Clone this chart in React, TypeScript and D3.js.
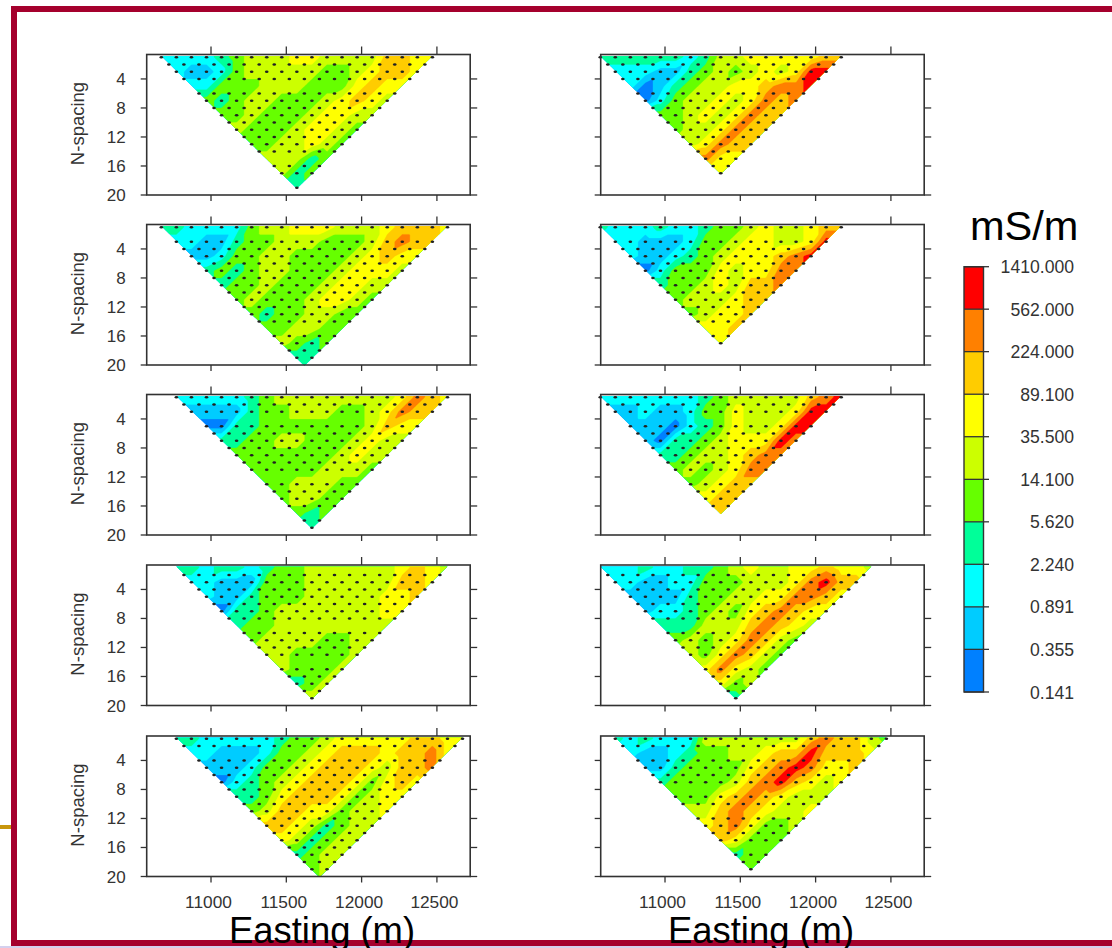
import React, { useMemo } from "react";
import * as d3 from "d3";

// Conductivity levels (mS/m) bounding the ten colour classes of the legend.
const levels = [0.141, 0.355, 0.891, 2.24, 5.62, 14.1, 35.5, 89.1, 224, 562, 1410];
const levelLabels = ["0.141", "0.355", "0.891", "2.240", "5.620", "14.100", "35.500", "89.100", "224.000", "562.000", "1410.000"];
const classColors = ["#0080ff", "#00ccff", "#00ffff", "#00ff99", "#66ff00", "#ccff00", "#ffff00", "#ffcc00", "#ff8000", "#ff0000"];
const eastingTicks = [11000, 11500, 12000, 12500];
const nTicks = [4, 8, 12, 16, 20];

// Colour class read at each station of the odd N-spacings (N = 1, 3, 5, ...), shallowest first.
const L1 = [
  [2, 2, 2, 2, 3, 4, 5, 5, 5, 6, 6, 5, 5, 5, 5, 7, 7, 6, 6],
  [2, 1, 1, 2, 4, 5, 5, 5, 5, 5, 4, 4, 5, 6, 7, 7, 6],
  [2, 2, 4, 4, 4, 5, 5, 5, 4, 4, 4, 6, 7, 6, 6],
  [4, 3, 4, 5, 5, 4, 4, 4, 5, 6, 7, 6, 5],
  [4, 4, 5, 4, 4, 4, 5, 6, 6, 5, 5],
  [5, 4, 4, 4, 5, 6, 6, 5, 4],
  [4, 4, 5, 5, 6, 5, 4],
  [5, 5, 5, 3, 4],
  [5, 3, 4],
  [3],
];
const L2 = [
  [3, 3, 2, 2, 2, 2, 4, 5, 5, 6, 6, 6, 5, 5, 5, 6, 7, 7, 7, 6],
  [2, 2, 1, 1, 3, 4, 4, 5, 5, 5, 4, 4, 4, 5, 7, 8, 7, 7],
  [1, 1, 2, 4, 4, 5, 5, 4, 4, 4, 4, 5, 6, 7, 6, 6],
  [3, 4, 3, 4, 5, 5, 4, 4, 4, 5, 6, 6, 6, 5],
  [3, 4, 4, 5, 4, 4, 4, 5, 6, 6, 5, 5],
  [4, 5, 4, 4, 4, 5, 6, 6, 5, 4],
  [4, 3, 4, 4, 5, 5, 4, 4],
  [4, 4, 5, 5, 4, 4],
  [5, 4, 3, 4],
  [3, 3],
];
const L3 = [
  [2, 2, 2, 2, 2, 3, 4, 5, 5, 5, 5, 5, 5, 5, 5, 6, 8, 7, 6],
  [1, 1, 1, 1, 3, 4, 4, 5, 5, 5, 4, 4, 5, 6, 8, 7, 7],
  [0, 0, 3, 3, 4, 4, 4, 4, 4, 4, 4, 5, 7, 6, 6],
  [3, 3, 4, 4, 5, 5, 4, 4, 4, 5, 6, 5, 5],
  [4, 4, 4, 4, 4, 4, 4, 5, 6, 5, 5],
  [4, 4, 4, 4, 4, 5, 5, 5, 4],
  [4, 4, 5, 5, 5, 4, 4],
  [4, 5, 5, 4, 4],
  [4, 3, 4],
  [3],
];
const L4 = [
  [3, 3, 2, 3, 3, 2, 3, 4, 4, 5, 5, 5, 5, 5, 5, 6, 7, 6, 5],
  [2, 2, 1, 1, 1, 4, 4, 4, 5, 5, 5, 5, 5, 5, 7, 7, 6],
  [2, 1, 1, 3, 4, 4, 4, 5, 5, 5, 5, 5, 6, 6, 7],
  [0, 3, 3, 4, 5, 5, 5, 5, 5, 5, 5, 6, 6],
  [3, 4, 4, 5, 5, 5, 5, 5, 5, 5, 5],
  [4, 5, 5, 5, 5, 4, 4, 5, 5],
  [5, 5, 4, 4, 4, 4, 5],
  [5, 4, 4, 4, 5],
  [3, 4, 5],
  [5],
];
const L5 = [
  [3, 3, 2, 2, 2, 2, 2, 3, 4, 4, 5, 6, 6, 6, 6, 6, 7, 7, 6, 6],
  [2, 2, 1, 1, 1, 2, 4, 4, 5, 6, 7, 7, 7, 6, 7, 7, 8, 6],
  [1, 1, 1, 2, 4, 4, 5, 6, 7, 7, 7, 6, 5, 7, 7, 8],
  [0, 2, 3, 4, 5, 6, 7, 7, 7, 6, 4, 6, 7, 6],
  [3, 3, 4, 6, 7, 7, 7, 6, 4, 5, 6, 6],
  [4, 5, 7, 7, 6, 6, 4, 5, 5, 6],
  [7, 7, 6, 5, 3, 4, 5, 5],
  [6, 5, 3, 4, 5, 5],
  [3, 4, 5, 5],
  [4, 5],
];
const R1 = [
  [3, 3, 3, 3, 3, 3, 2, 3, 5, 5, 6, 6, 6, 6, 6, 7, 7],
  [2, 2, 2, 1, 1, 3, 4, 5, 4, 5, 6, 5, 6, 9, 9],
  [2, 0, 1, 3, 4, 5, 5, 6, 6, 7, 8, 8, 9],
  [0, 2, 4, 5, 5, 6, 5, 6, 8, 7, 8],
  [4, 4, 5, 6, 5, 6, 8, 7, 7],
  [4, 5, 5, 6, 8, 7, 7],
  [5, 6, 8, 7, 7],
  [8, 6, 6],
  [6],
];
const R2 = [
  [3, 2, 2, 2, 3, 2, 2, 3, 4, 4, 5, 6, 5, 5, 6, 7, 7],
  [2, 2, 1, 1, 1, 2, 4, 4, 5, 6, 6, 5, 5, 6, 9],
  [2, 1, 1, 2, 3, 4, 5, 6, 6, 6, 7, 8, 9],
  [0, 2, 4, 4, 4, 6, 5, 6, 6, 8, 8],
  [3, 4, 4, 5, 6, 5, 7, 7, 8],
  [4, 5, 5, 5, 6, 7, 7],
  [4, 5, 6, 6, 7],
  [6, 6, 7],
  [6],
];
const R3 = [
  [2, 2, 2, 2, 2, 2, 2, 3, 4, 5, 5, 5, 5, 5, 7, 8, 9],
  [1, 1, 2, 1, 1, 2, 4, 4, 6, 5, 5, 5, 6, 9, 9],
  [1, 1, 1, 0, 2, 3, 4, 6, 5, 5, 6, 9, 9],
  [1, 0, 3, 3, 4, 5, 6, 6, 6, 9, 8],
  [3, 3, 4, 5, 5, 6, 7, 8, 8],
  [4, 5, 4, 5, 6, 8, 8],
  [4, 5, 6, 7, 7],
  [6, 7, 7],
  [7],
];
const R4 = [
  [2, 2, 2, 3, 2, 2, 3, 3, 4, 5, 6, 5, 5, 6, 6, 7, 6, 6, 5],
  [2, 2, 1, 1, 2, 2, 4, 4, 4, 5, 5, 5, 6, 8, 9, 7, 7],
  [1, 1, 1, 1, 3, 4, 4, 5, 5, 6, 6, 8, 8, 7, 6],
  [1, 2, 2, 3, 4, 5, 4, 6, 7, 8, 7, 6, 6],
  [3, 3, 3, 5, 5, 5, 7, 8, 7, 6, 5],
  [4, 5, 4, 5, 6, 8, 7, 5, 4],
  [5, 4, 6, 8, 7, 5, 4],
  [6, 8, 6, 5, 4],
  [6, 4, 5],
  [3],
];
const R5 = [
  [3, 2, 3, 2, 2, 2, 5, 5, 5, 5, 5, 5, 5, 7, 8, 7, 7, 5, 4],
  [2, 1, 1, 2, 3, 4, 4, 5, 5, 6, 7, 7, 9, 7, 7, 7, 6],
  [1, 1, 3, 4, 4, 4, 4, 6, 7, 8, 9, 8, 6, 6, 7],
  [3, 4, 4, 4, 4, 5, 7, 8, 9, 7, 6, 5, 6],
  [4, 4, 4, 6, 7, 8, 7, 6, 5, 5, 5],
  [5, 5, 7, 8, 7, 6, 5, 5, 6],
  [6, 7, 8, 6, 4, 4, 5],
  [7, 6, 4, 4, 4],
  [3, 4, 4],
  [4],
];

// Panels by column: data, easting of first station, station count, N-spacings without measurement dots.
const leftPanels = [
  { rows: L1, start: 10670, count: 19, missing: [5, 15, 18] },
  { rows: L2, start: 10670, count: 20, missing: [2, 15, 20] },
  { rows: L3, start: 10770, count: 19, missing: [4, 12, 17] },
  { rows: L4, start: 10770, count: 19, missing: [1, 9, 14] },
  { rows: L5, start: 10770, count: 20, missing: [3, 20] },
];
const rightPanels = [
  { rows: R1, start: 10570, count: 17, missing: [5] },
  { rows: R2, start: 10570, count: 17, missing: [2, 15] },
  { rows: R3, start: 10570, count: 17, missing: [4, 12, 17] },
  { rows: R4, start: 10570, count: 19, missing: [1, 9, 14] },
  { rows: R5, start: 10670, count: 19, missing: [3, 8, 11, 16] },
];

const FONT = "'Liberation Sans', Arial, sans-serif";
const INK = "#333";
const panelTops = [54.5, 224.5, 394.5, 565, 736];
const PANEL_H = 140.5;
const PANEL_W = 323.5;
const STEP = 100;

type PanelData = { rows: number[][]; start: number; count: number; missing: number[] };

function sampleField(p: PanelData, e: number, n: number): number {
  // Triangular-mesh interpolation across the odd-N rows of the pseudosection lattice.
  const col = (e - p.start) / STEP;
  const rf = Math.max(0, Math.min(p.rows.length - 1, (n - 1) / 2));
  const r0 = Math.min(p.rows.length - 1, Math.floor(rf));
  const r1 = Math.min(p.rows.length - 1, r0 + 1);
  const t = rf - r0;
  const at = (r: number, c: number) => {
    const row = p.rows[r];
    const i = Math.max(0, Math.min(row.length - 1, c - r));
    return row[i] + 0.5;
  };
  const c0 = Math.floor(col);
  const u = col - c0;
  if (u + t <= 1) {
    const a0 = at(r0, c0);
    return a0 + u * (at(r0, c0 + 1) - a0) + t * (at(r1, c0) - a0);
  }
  const b1 = at(r1, c0 + 1);
  return b1 + (1 - u) * (at(r1, c0) - b1) + (1 - t) * (at(r0, c0 + 1) - b1);
}

function Panel({ data, left, top, showY, showX }: { data: PanelData; left: number; top: number; showY: boolean; showX: boolean }) {
  const x = d3.scaleLinear().domain([10573, 12721]).range([left, left + PANEL_W]);
  const y = d3.scaleLinear().domain([0.63, 20]).range([top, top + PANEL_H]);
  const end = data.start + (data.count - 1) * STEP;
  const apexE = (data.start + end) / 2;
  const apexN = data.count;
  const id = `clip-${Math.round(left)}-${Math.round(top)}`;

  const bands = useMemo(() => {
    const w = Math.ceil(PANEL_W);
    const h = Math.ceil(PANEL_H);
    const values = new Float64Array(w * h);
    for (let j = 0; j < h; j++) {
      const n = y.invert(top + j + 0.5);
      for (let i = 0; i < w; i++) {
        values[j * w + i] = sampleField(data, x.invert(left + i + 0.5), n);
      }
    }
    const gen = d3.contours().size([w, h]).thresholds(d3.range(0, classColors.length));
    const path = d3.geoPath();
    return gen(Array.from(values)).map((c) => ({ value: c.value, d: path(c) || "" }));
  }, [data, left, top]);

  const dots: { cx: number; cy: number }[] = [];
  for (let n = 1; n <= data.count; n++) {
    if (data.missing.includes(n)) continue;
    const stations = data.count - (n - 1);
    for (let k = 0; k < stations; k++) {
      dots.push({ cx: x(data.start + (n - 1) * 50 + k * STEP), cy: y(n) });
    }
  }

  const tri = [
    [x(data.start), y(0.85)],
    [x(end), y(0.85)],
    [x(apexE), y(apexN + 0.1)],
  ]
    .map((p) => p.join(","))
    .join(" ");

  return (
    <g>
      <clipPath id={id}>
        <polygon points={tri} />
      </clipPath>
      <g filter="url(#soft)">
        <g clipPath={`url(#${id})`}>
          <g transform={`translate(${left},${top})`}>
            {bands.map((b) => (
              <path key={b.value} d={b.d} fill={classColors[b.value]} stroke={classColors[b.value]} strokeWidth={0.3} />
            ))}
          </g>
        </g>
      </g>
      <g>
        {dots.map((d, i) => (
          <ellipse key={i} cx={d.cx} cy={d.cy} rx={1.8} ry={1.2} fill="#222" />
        ))}
      </g>
      <g filter="url(#soft)">
        <rect x={left} y={top} width={PANEL_W} height={PANEL_H} fill="none" stroke={INK} strokeWidth={1.6} />
        {eastingTicks.map((t) => (
          <g key={t}>
            <line x1={x(t)} x2={x(t)} y1={top} y2={top - 8} stroke={INK} strokeWidth={1.3} />
            <line x1={x(t)} x2={x(t)} y1={top + PANEL_H} y2={top + PANEL_H + 6} stroke={INK} strokeWidth={1.3} />
          </g>
        ))}
        {nTicks.map((t) => (
          <g key={t}>
            <line x1={left} x2={left - 6} y1={y(t)} y2={y(t)} stroke={INK} strokeWidth={1.3} />
            <line x1={left + PANEL_W} x2={left + PANEL_W + 7} y1={y(t)} y2={y(t)} stroke={INK} strokeWidth={1.3} />
          </g>
        ))}
      </g>
      {showY && (
        <g fontFamily={FONT} fill={INK}>
          {nTicks.map((t) => (
            <text key={t} x={left - 21} y={y(t) + 6} fontSize={17} textAnchor="end">
              {t}
            </text>
          ))}
          <text transform={`translate(${left - 63},${top + 69}) rotate(-90)`} fontSize={18.5} textAnchor="middle">
            N-spacing
          </text>
        </g>
      )}
      {showX && (
        <g fontFamily={FONT} fill={INK}>
          {eastingTicks.map((t) => (
            <text key={t} x={x(t) - 2.5} y={top + PANEL_H + 31.5} fontSize={17.3} textAnchor="middle">
              {t}
            </text>
          ))}
        </g>
      )}
    </g>
  );
}

function Legend() {
  const yScale = d3.scaleLog().domain([levels[0], levels[levels.length - 1]]).range([692, 266.7]);
  const xL = 964;
  const xR = 983.5;
  return (
    <g>
      {classColors.map((c, i) => (
        <rect key={c} x={xL} y={yScale(levels[i + 1])} width={xR - xL} height={yScale(levels[i]) - yScale(levels[i + 1])} fill={c} />
      ))}
      <rect x={xL} y={266.7} width={xR - xL} height={692 - 266.7} fill="none" stroke={INK} strokeWidth={1.4} />
      {levels.map((l, i) => (
        <g key={l}>
          <line x1={xL} x2={989} y1={yScale(l)} y2={yScale(l)} stroke={INK} strokeWidth={1.3} />
          <text x={1074} y={yScale(l) + 6.5} fontSize={17.6} textAnchor="end" fontFamily={FONT} fill={INK}>
            {levelLabels[i]}
          </text>
        </g>
      ))}
      <text x={970} y={240} fontSize={41.5} fontFamily={FONT} fill="#000">
        mS/m
      </text>
    </g>
  );
}

export default function App() {
  return (
    <svg
      width={1112}
      height={948}
      viewBox="0 0 1112 948"
      style={{ position: "fixed", left: 0, top: 0, display: "block", background: "#fff" }}
    >
      <defs>
        <filter id="soft" x="-5%" y="-5%" width="110%" height="110%">
          <feGaussianBlur stdDeviation={0.45} />
        </filter>
      </defs>
      {/* Slide frame */}
      <rect x={0} y={825} width={12} height={4} fill="#c8960c" />
      <rect x={0} y={946} width={1112} height={2} fill="#d4d0ee" />
      <rect x={11} y={6} width={1101} height={6} fill="#a5002d" />
      <rect x={11} y={6} width={6} height={940} fill="#a5002d" />
      <rect x={11} y={940} width={1101} height={6} fill="#a5002d" />
      {leftPanels.map((p, i) => (
        <Panel key={i} data={p} left={146.7} top={panelTops[i]} showY showX={i === 4} />
      ))}
      {rightPanels.map((p, i) => (
        <Panel key={i} data={p} left={600.7} top={panelTops[i]} showY={false} showX={i === 4} />
      ))}
      <Legend />
      <text x={229} y={943} fontSize={36.4} fontFamily={FONT} fill="#000">
        Easting (m)
      </text>
      <text x={668} y={943} fontSize={36.4} fontFamily={FONT} fill="#000">
        Easting (m)
      </text>
    </svg>
  );
}
